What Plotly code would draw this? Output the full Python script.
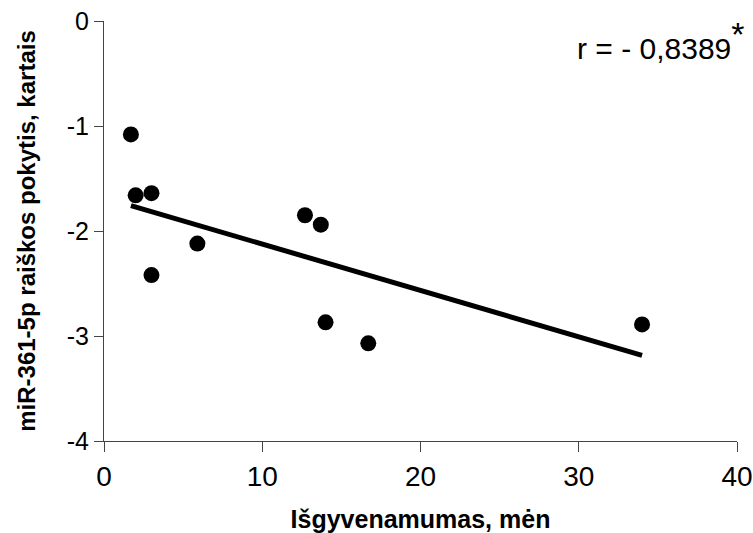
import numpy as np
import plotly.graph_objects as go

survival_months = [1.7, 2.0, 3.0, 3.0, 5.9, 12.7, 13.7, 14.0, 16.7, 34.0]
expression_change = [-1.08, -1.66, -1.64, -2.42, -2.12, -1.85, -1.94, -2.87, -3.07, -2.89]
x_ticks = [0, 10, 20, 30, 40]
y_ticks = [0, -1, -2, -3, -4]
r_label = "r = - 0,8389<sup><span style='font-size:34px'>*</span></sup>"

x = np.array(survival_months)
y = np.array(expression_change)
slope, intercept = np.polyfit(x, y, 1)
xl = np.array([x.min(), x.max()])
yl = slope * xl + intercept

fig = go.Figure()
fig.add_trace(go.Scatter(x=xl, y=yl, mode="lines",
                         line=dict(color="black", width=5), hoverinfo="skip"))
fig.add_trace(go.Scatter(x=survival_months, y=expression_change, mode="markers",
                         marker=dict(color="black", size=16)))

font = "Liberation Sans, Arial, sans-serif"
fig.update_layout(
    width=753, height=533,
    margin=dict(l=104, r=16, t=21, b=92),
    plot_bgcolor="white", paper_bgcolor="white",
    showlegend=False,
    font=dict(family=font, color="black"),
)
fig.update_xaxes(range=[0, 40], tickvals=x_ticks, ticktext=[str(v) for v in x_ticks],
                 automargin=False, ticklabeloverflow="allow",
                 showgrid=False, zeroline=False, showline=True, linecolor="#444", linewidth=1,
                 ticks="outside", ticklen=10, tickcolor="#444", tickwidth=1,
                 tickfont=dict(size=28, family=font, color="black"),
                 title=dict(text="<b>Išgyvenamumas, mėn</b>", font=dict(size=25, family=font), standoff=20))
fig.update_yaxes(range=[-4, 0], tickvals=y_ticks, ticktext=[str(v) for v in y_ticks],
                 automargin=False, ticklabeloverflow="allow",
                 showgrid=False, zeroline=False, showline=True, linecolor="#444", linewidth=1,
                 ticks="outside", ticklen=9, tickcolor="#444", tickwidth=1,
                 tickfont=dict(size=25, family=font, color="black"),
                 title=dict(text="<b>miR-361-5p raiškos pokytis, kartais</b>", font=dict(size=24, family=font), standoff=24))
fig.add_annotation(x=1, y=0.955, xref="paper", yref="paper", xanchor="right", yanchor="middle",
                   text=r_label, showarrow=False, font=dict(size=30, family=font, color="black"),
                   xshift=10)
fig.write_html("out.html")
